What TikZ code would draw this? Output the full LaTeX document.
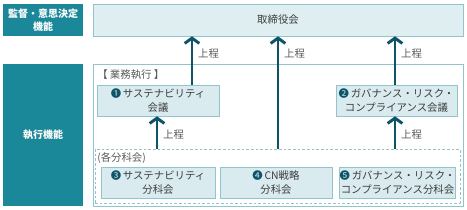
\documentclass[tikz,border=0pt]{standalone}
\usepackage{fontspec}
\setmainfont{Noto Sans CJK JP}
\usetikzlibrary{arrows.meta,positioning,calc,shadows}
\definecolor{labteal}{HTML}{1B8899}
\definecolor{boardfill}{HTML}{DEEEF1}
\definecolor{boxfill}{HTML}{DAEBEF}
\definecolor{boxline}{HTML}{93C3CB}
\definecolor{arrowc}{HTML}{0E5468}
\definecolor{txt}{HTML}{3C3C3C}
\newcommand{\num}[1]{{\color{arrowc}#1}\,}

\begin{document}
\begin{tikzpicture}[x=0.75pt,y=-0.75pt,
  lab/.style={fill=labteal,text=white,font=\fontsize{7.5}{9.75}\selectfont\bfseries,align=center,inner sep=0pt},
  box/.style={draw=boxline,fill=boxfill,text=txt,font=\fontsize{7.8}{10.5}\selectfont,align=center,inner sep=0pt,
    drop shadow={shadow xshift=0.6pt,shadow yshift=-0.6pt,opacity=0.35}},
  up/.style={draw=arrowc,line width=2.2pt,-{Straight Barb[length=4pt,width=11pt]}},
  note/.style={text=txt!85,font=\fontsize{7.8}{9}\selectfont,inner sep=1.5pt}]
  \useasboundingbox (0,0) rectangle (467,210);

  \node[lab,minimum width=60pt,minimum height=24pt] (sup) at (43,20) {監督・意思決定\\機能};
  \node[lab,minimum width=60pt,minimum height=106.5pt] (exe) at (43,135) {執行機能};

  \node[box,fill=boardfill,minimum width=277.5pt,minimum height=24pt] (board) at (278,20) {取締役会};
  \node[draw=boxline,fill=white,minimum width=277.5pt,minimum height=106.5pt] (exec) at (278,135) {};
  \node[draw=boxline,dash pattern=on 2pt off 1.5pt,minimum width=273.75pt,minimum height=40.5pt] (sub) at (277.5,176) {};
  \node[note,anchor=west] (gyomu) at (95,75) {【 業務執行 】};
  \node[note,anchor=west] (kaku) at (95,158) {(各分科会)};

  \node[box,minimum width=91.5pt,minimum height=23.25pt] (box1) at (158,100.5) {\num{❶}サステナビリティ\\会議};
  \node[box,minimum width=90.75pt,minimum height=23.25pt] (box2) at (396.5,100.5) {\num{❷}ガバナンス・リスク・\\コンプライアンス会議};
  \node[box,minimum width=85.5pt,minimum height=23.25pt] (box3) at (158,182.5) {\num{❸}サステナビリティ\\分科会};
  \node[box,minimum width=84pt,minimum height=23.25pt] (box4) at (276,182.5) {\num{❹}CN戦略\\分科会};
  \node[box,minimum width=86.25pt,minimum height=23.25pt] (box5) at (397.5,182.5) {\num{❺}ガバナンス・リスク・\\コンプライアンス分科会};

  \foreach \from/\to/\xx/\p in {box1/board/192/0.65,sub/board/278/0.85,box2/board/395/0.65,sub/box1/157/0.45,sub/box2/395/0.45}{
    \coordinate (t) at (\xx,0);
    \draw[up] (\from.north -| t) -- (\to.south -| t) node[note,pos=\p,right=2pt]{上程};
  }
\end{tikzpicture}
\end{document}
